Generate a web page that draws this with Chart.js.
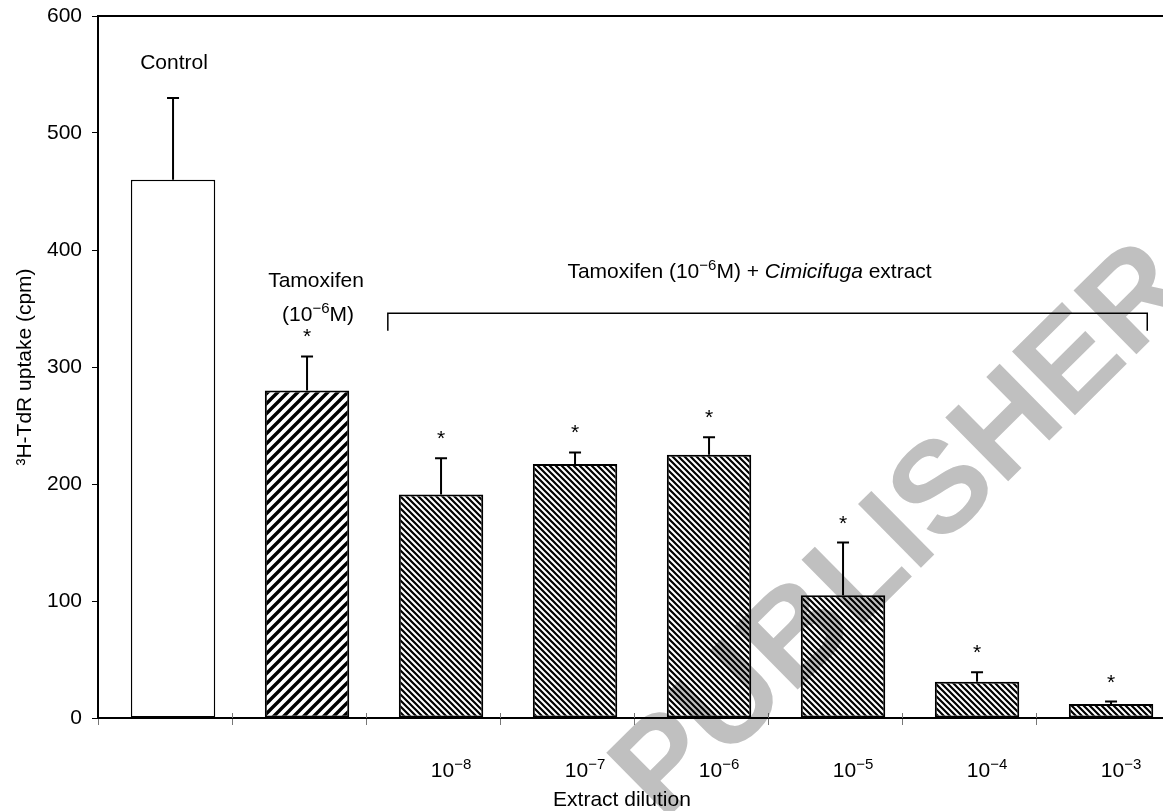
<!DOCTYPE html>
<html>
<head>
<meta charset="utf-8">
<script src="https://cdn.jsdelivr.net/npm/chart.js@4"></script>
<style>
  html, body { margin: 0; padding: 0; background: #fff; overflow: hidden; }
  #wrap { width: 1180px; height: 811px; }
</style>
</head>
<body>
<div id="wrap"><canvas id="chart" width="1180" height="811"></canvas></div>
<script>
// values
const categories = ['Control', 'Tamoxifen', '10-8', '10-7', '10-6', '10-5', '10-4', '10-3'];
const dilutionExp = [null, null, -8, -7, -6, -5, -4, -3];
const uptake = [460, 280, 191, 217, 225, 105, 31, 12];
const uptakeErr = [70, 29, 31, 10, 15, 45, 8, 2];
const significant = [false, true, true, true, true, true, true, true];
const yTicks = [0, 100, 200, 300, 400, 500, 600];

const FONT = '"Liberation Sans", Arial, Helvetica, sans-serif';
const BASE = 21, SUP = 15, RAISE = 8;
const BAR_SHIFT = 0.06; // bars sit a little right of the category centre

function hatch(size, width, forward) {
  const c = document.createElement('canvas');
  c.width = size; c.height = size;
  const g = c.getContext('2d');
  g.fillStyle = '#fff';
  g.fillRect(0, 0, size, size);
  g.strokeStyle = '#000';
  g.lineWidth = width;
  g.beginPath();
  if (forward) {
    g.moveTo(-size, size * 2); g.lineTo(size * 2, -size);
    g.moveTo(-size, size); g.lineTo(size, -size);
    g.moveTo(0, size * 2); g.lineTo(size * 2, 0);
  } else {
    g.moveTo(-size, -size); g.lineTo(size * 2, size * 2);
    g.moveTo(-size, 0); g.lineTo(size, size * 2);
    g.moveTo(0, -size); g.lineTo(size * 2, size);
  }
  g.stroke();
  return g.createPattern(c, 'repeat');
}

const ctx0 = document.getElementById('chart').getContext('2d');
const widePattern = hatch(10, 3.4, true);
const densePattern = hatch(6, 2.2, false);
const fills = categories.map((c, i) => i === 0 ? '#fff' : (i === 1 ? widePattern : densePattern));

function fontFor(p) {
  return (p.italic ? 'italic ' : '') + (p.sup ? SUP : BASE) + 'px ' + FONT;
}
function runWidth(ctx, parts) {
  let w = 0;
  parts.forEach(p => { ctx.font = fontFor(p); w += ctx.measureText(p.t).width; });
  return w;
}
function drawRun(ctx, parts, cx, y) {
  let x = cx - runWidth(ctx, parts) / 2;
  ctx.textAlign = 'left';
  ctx.textBaseline = 'alphabetic';
  parts.forEach(p => {
    ctx.font = fontFor(p);
    ctx.fillText(p.t, x, p.sup ? y - RAISE : y);
    x += ctx.measureText(p.t).width;
  });
}

const annotations = {
  id: 'annotations',
  afterDatasetsDraw(chart) {
    const ctx = chart.ctx;
    const xs = chart.scales.x, ys = chart.scales.y;
    const area = chart.chartArea;
    const bars = chart.getDatasetMeta(0).data;
    ctx.save();
    ctx.fillStyle = '#000';
    ctx.strokeStyle = '#000';

    // frame top
    ctx.lineWidth = 2;
    ctx.beginPath();
    ctx.moveTo(area.left, area.top);
    ctx.lineTo(area.right, area.top);
    ctx.stroke();

    // x tick marks also poke a little above the axis
    ctx.strokeStyle = '#777';
    ctx.lineWidth = 1;
    ctx.beginPath();
    for (let k = 1; k <= categories.length; k++) {
      const tx = Math.round(xs.getPixelForValue(k)) + 0.5;
      ctx.moveTo(tx, area.bottom - 5);
      ctx.lineTo(tx, area.bottom);
    }
    ctx.stroke();
    ctx.strokeStyle = '#000';

    // error bars + asterisks
    bars.forEach((bar, i) => {
      const yTop = ys.getPixelForValue(uptake[i] + uptakeErr[i]);
      ctx.lineWidth = 2;
      ctx.beginPath();
      ctx.moveTo(bar.x, bar.y);
      ctx.lineTo(bar.x, yTop);
      ctx.moveTo(bar.x - 6, yTop);
      ctx.lineTo(bar.x + 6, yTop);
      ctx.stroke();
      if (significant[i]) {
        ctx.font = BASE + 'px ' + FONT;
        ctx.textAlign = 'center';
        ctx.textBaseline = 'alphabetic';
        ctx.fillText('*', bar.x, yTop - 25 + 12);
      }
    });

    // group labels
    ctx.font = BASE + 'px ' + FONT;
    ctx.textAlign = 'center';
    ctx.fillText('Control', bars[0].x + 1, ys.getPixelForValue(555));
    drawRun(ctx, [{ t: 'Tamoxifen' }], bars[1].x + 9, ys.getPixelForValue(368));
    drawRun(ctx, [{ t: '(10' }, { t: '\u2212' + '6', sup: true }, { t: 'M)' }], bars[1].x + 11, ys.getPixelForValue(339));

    // bracket over the extract dilutions
    const b0 = bars[2], b1 = bars[bars.length - 1];
    const bl = b0.x - b0.width / 2 - 11, br = b1.x + b1.width / 2 - 6;
    const by = ys.getPixelForValue(346), bLeg = ys.getPixelForValue(331);
    ctx.lineWidth = 1.5;
    ctx.beginPath();
    ctx.moveTo(bl, bLeg); ctx.lineTo(bl, by); ctx.lineTo(br, by); ctx.lineTo(br, bLeg);
    ctx.stroke();
    drawRun(ctx, [
      { t: 'Tamoxifen (10' }, { t: '\u2212' + '6', sup: true }, { t: 'M) + ' },
      { t: 'Cimicifuga', italic: true }, { t: ' extract' }
    ], (bl + br) / 2 - 18, ys.getPixelForValue(376));

    // x tick labels (dilutions)
    bars.forEach((bar, i) => {
      if (dilutionExp[i] === null) return;
      drawRun(ctx, [{ t: '10' }, { t: '\u2212' + Math.abs(dilutionExp[i]), sup: true }], bar.x + 10, area.bottom + 59);
    });
    drawRun(ctx, [{ t: 'Extract dilution' }], xs.getPixelForValue(3.91), area.bottom + 88);
    ctx.restore();
  },
  afterDraw(chart) {
    // publisher watermark
    const ctx = chart.ctx;
    ctx.save();
    ctx.globalCompositeOperation = 'multiply';
    ctx.translate(897, 525);
    ctx.rotate(-44.7 * Math.PI / 180);
    ctx.fillStyle = '#c0c0c0';
    ctx.font = 'bold 130px ' + FONT;
    ctx.textAlign = 'center';
    ctx.textBaseline = 'alphabetic';
    ctx.fillText('PUBLISHER', 0, 47);
    ctx.restore();
  }
};

new Chart(ctx0, {
  type: 'bar',
  data: {
    datasets: [{
      label: '3H-TdR uptake',
      data: uptake.map((v, i) => ({ x: i + 0.5 + BAR_SHIFT, y: v })),
      backgroundColor: fills,
      borderColor: '#000',
      borderWidth: categories.map((c, i) => i === 0 ? 1.5 : 2),
      borderSkipped: false,
      categoryPercentage: 1,
      barPercentage: 0.63
    }]
  },
  options: {
    responsive: false,
    animation: false,
    devicePixelRatio: 1,
    layout: { padding: { top: 16, right: 10, left: 0, bottom: 0 } },
    plugins: {
      legend: { display: false },
      tooltip: { enabled: false }
    },
    scales: {
      x: {
        type: 'linear',
        offset: false,
        min: 0,
        max: categories.length,
        ticks: { stepSize: 1, callback: () => '' },
        grid: { offset: false, drawOnChartArea: false, tickLength: 7, tickColor: '#777', tickWidth: 1 },
        border: { color: '#000', width: 2 },
        afterFit: s => { s.height = 93; s.paddingLeft = 0; s.paddingRight = 0; }
      },
      y: {
        min: yTicks[0],
        max: yTicks[yTicks.length - 1],
        ticks: {
          stepSize: yTicks[1] - yTicks[0],
          color: '#000',
          padding: 10,
          font: { family: FONT, size: BASE }
        },
        grid: { drawOnChartArea: false, tickLength: 6, tickColor: '#000', tickWidth: 1 },
        border: { color: '#000', width: 2 },
        title: {
          display: true,
          text: '\u00b3H-TdR uptake (cpm)',
          color: '#000',
          font: { family: FONT, size: 21 },
          padding: { top: 13, bottom: 0 }
        },
        afterFit: s => { s.width = 98; s.paddingTop = 0; s.paddingBottom = 0; }
      }
    }
  },
  plugins: [annotations]
});
</script>
</body>
</html>
